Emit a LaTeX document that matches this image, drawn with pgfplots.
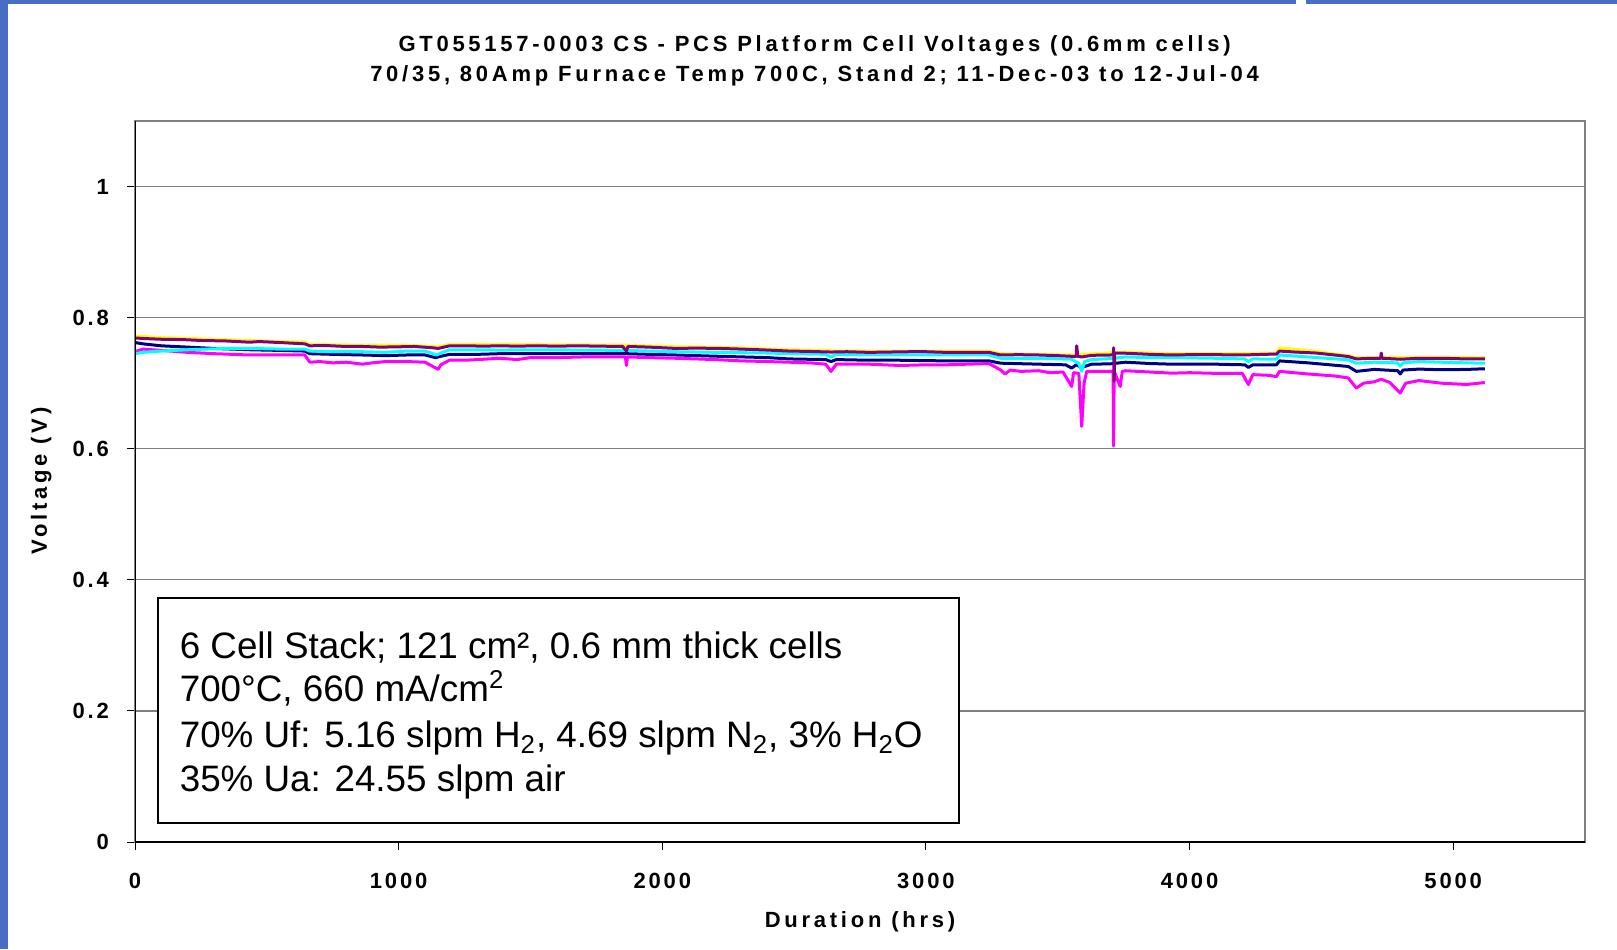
\documentclass[border=0pt]{standalone}
\usepackage{fontspec}
\setmainfont{Liberation Sans}
\newfontfamily\lsfont[LetterSpace=13]{Liberation Sans}
\newfontfamily\ltfont[LetterSpace=17]{Liberation Sans}
\usepackage{pgfplots}
\pgfplotsset{compat=1.18}
\definecolor{xnavy}{RGB}{0,0,128}
\definecolor{xmag}{RGB}{255,0,255}
\definecolor{xyel}{RGB}{255,255,0}
\definecolor{xcyan}{RGB}{0,255,255}
\definecolor{xpurp}{RGB}{128,0,128}
\definecolor{slideblue}{RGB}{72,110,196}
\newcommand{\lbl}{\fontsize{11}{13}\selectfont\lsfont\bfseries}
\newcommand{\ttl}{\fontsize{11}{13}\selectfont\ltfont\bfseries}
\begin{document}
\begin{tikzpicture}
\path[use as bounding box] (0,0) rectangle (808.5pt,474.5pt);
\fill[white] (0,0) rectangle (808.5pt,474.5pt);
\begin{axis}[
  at={(67.5pt,53.5pt)}, anchor=south west,
  scale only axis, width=725pt, height=360.5pt,
  xmin=0, xmax=5500, ymin=0, ymax=1.1,
  xtick={0,1000,2000,3000,4000,5000},
  xticklabels={0,1000,2000,3000,4000,5000},
  ytick={0,0.2,0.4,0.6,0.8,1},
  yticklabels={0,0.2,0.4,0.6,0.8,1},
  xtick pos=left, ytick pos=left,
  tick align=outside, major tick length=4pt,
  tick style={black, line width=0.5pt},
  ymajorgrids, grid style={gray, line width=0.6pt},
  axis line style={gray, line width=0.8pt},
  ticklabel style={font=\lbl},
  xticklabel style={anchor=center, yshift=-15.5pt},
  yticklabel style={anchor=east, xshift=-5.5pt},
  every axis plot/.append style={line width=1.5pt, no markers, line join=round},
]
% Cell 1 (navy)
\addplot[xnavy] coordinates {
(0,0.762) (30,0.760) (100,0.757) (200,0.755) (300,0.753) (436,0.751) (550,0.750) (644,0.749) (663,0.745) (750,0.744)
(864,0.743) (950,0.742) (1030,0.743) (1100,0.743) (1140,0.739) (1160,0.741) (1193,0.744) (1300,0.744) (1383,0.745) (1500,0.745)
(1700,0.745) (1864,0.745) (1950,0.744) (2053,0.743) (2216,0.741) (2400,0.739) (2481,0.737) (2620,0.736) (2640,0.733) (2660,0.736)
(2784,0.735) (2900,0.735) (3076,0.734) (3239,0.734) (3284,0.7305) (3428,0.729) (3530,0.728) (3553,0.723) (3570,0.728) (3591,0.724)
(3629,0.729) (3700,0.7295) (3757,0.732) (3850,0.730) (3932,0.729) (4098,0.729) (4210,0.728) (4223,0.724) (4240,0.728) (4330,0.728)
(4341,0.734) (4450,0.731) (4602,0.7255) (4633,0.718) (4700,0.721) (4790,0.719) (4799,0.714) (4810,0.720) (4870,0.7215) (4955,0.7205)
(5050,0.721) (5120,0.722)
};
% Cell 2 (magenta)
\addplot[xmag] coordinates {
(0,0.748) (30,0.752) (100,0.750) (200,0.747) (300,0.745) (436,0.743) (550,0.743) (644,0.743) (663,0.732) (700,0.733)
(750,0.731) (800,0.732) (864,0.729) (900,0.731) (950,0.733) (1030,0.733) (1100,0.732) (1130,0.7255) (1150,0.721) (1160,0.728)
(1193,0.735) (1250,0.735) (1300,0.736) (1383,0.738) (1450,0.736) (1500,0.739) (1600,0.739) (1700,0.740) (1860,0.740) (1864,0.727)
(1868,0.740) (1950,0.739) (2053,0.738) (2130,0.737) (2216,0.7357) (2300,0.734) (2400,0.733) (2481,0.732) (2560,0.731) (2620,0.729)
(2640,0.718) (2660,0.729) (2700,0.729) (2784,0.729) (2900,0.727) (3000,0.728) (3076,0.728) (3160,0.729) (3239,0.730) (3284,0.720)
(3300,0.714) (3320,0.720) (3360,0.718) (3428,0.719) (3470,0.716) (3520,0.717) (3553,0.695) (3560,0.716) (3580,0.715) (3591,0.634)
(3600,0.700) (3610,0.718) (3629,0.718) (3700,0.718) (3710,0.718) (3712,0.604) (3714,0.718) (3737,0.695) (3745,0.718) (3757,0.719)
(3850,0.717) (3932,0.7153) (4000,0.716) (4098,0.715) (4200,0.715) (4223,0.698) (4240,0.713) (4300,0.712) (4330,0.710) (4341,0.718)
(4450,0.714) (4550,0.711) (4602,0.708) (4633,0.6925) (4660,0.700) (4700,0.702) (4727,0.706) (4760,0.701) (4799,0.685) (4820,0.700)
(4870,0.704) (4955,0.700) (5050,0.698) (5120,0.701)
};
% Cell 3 (yellow)
\addplot[xyel] coordinates {
(0,0.772) (100,0.7695) (260,0.7675) (436,0.765) (644,0.7625) (663,0.759) (864,0.758) (1030,0.758) (1150,0.7555) (1193,0.759)
(1383,0.759) (1600,0.7585) (1864,0.758) (2053,0.7555) (2216,0.755) (2481,0.751) (2640,0.7495) (2784,0.749) (3076,0.749) (3239,0.749)
(3284,0.745) (3553,0.743) (3757,0.7475) (3932,0.745) (4098,0.745) (4330,0.746) (4341,0.7535) (4450,0.750) (4602,0.742) (4633,0.739)
(4955,0.7395) (5120,0.739)
};
% Cell 4 (cyan)
\addplot[xcyan] coordinates {
(0,0.745) (30,0.747) (100,0.749) (200,0.751) (300,0.7525) (436,0.753) (550,0.752) (644,0.752) (663,0.749) (750,0.748)
(864,0.748) (950,0.747) (1030,0.749) (1100,0.749) (1130,0.745) (1145,0.743) (1160,0.746) (1193,0.751) (1300,0.751) (1383,0.7505)
(1500,0.751) (1700,0.7505) (1864,0.750) (1950,0.749) (2053,0.748) (2216,0.747) (2400,0.746) (2481,0.745) (2620,0.744) (2640,0.740)
(2660,0.744) (2784,0.743) (2900,0.743) (3076,0.743) (3239,0.743) (3284,0.738) (3428,0.738) (3553,0.7365) (3580,0.730) (3591,0.718)
(3602,0.733) (3629,0.736) (3700,0.7375) (3757,0.740) (3850,0.739) (3932,0.739) (4098,0.738) (4210,0.737) (4223,0.733) (4240,0.737)
(4330,0.7366) (4341,0.743) (4450,0.740) (4602,0.7356) (4633,0.7305) (4700,0.732) (4790,0.731) (4799,0.726) (4810,0.731) (4870,0.733)
(4955,0.732) (5050,0.731) (5120,0.7305)
};
% Cell 5 (purple)
\addplot[xpurp] coordinates {
(0,0.769) (40,0.768) (100,0.767) (180,0.7665) (260,0.765) (340,0.7645) (436,0.7625) (470,0.7635) (550,0.762) (644,0.760)
(663,0.757) (720,0.7575) (800,0.756) (864,0.756) (930,0.755) (1000,0.7555) (1060,0.756) (1130,0.754) (1150,0.753) (1193,0.757)
(1260,0.757) (1320,0.7565) (1383,0.757) (1450,0.7565) (1520,0.757) (1600,0.7565) (1680,0.757) (1760,0.7565) (1850,0.756) (1864,0.749)
(1870,0.756) (1950,0.755) (2053,0.753) (2130,0.7535) (2216,0.753) (2300,0.752) (2400,0.7505) (2481,0.749) (2550,0.7485) (2640,0.7475)
(2700,0.748) (2784,0.747) (2860,0.7475) (2940,0.748) (3000,0.748) (3076,0.747) (3160,0.747) (3239,0.747) (3284,0.743) (3350,0.7435)
(3428,0.743) (3500,0.742) (3553,0.741) (3570,0.741) (3572,0.757) (3576,0.741) (3591,0.740) (3629,0.7425) (3700,0.743) (3711,0.743)
(3712,0.754) (3714,0.703) (3716,0.746) (3757,0.7457) (3850,0.744) (3932,0.743) (4000,0.7435) (4098,0.7435) (4200,0.743) (4330,0.7445)
(4341,0.749) (4400,0.7475) (4480,0.746) (4550,0.743) (4602,0.7407) (4633,0.737) (4690,0.738) (4725,0.738) (4727,0.746) (4730,0.738)
(4800,0.7365) (4870,0.738) (4955,0.738) (5050,0.737) (5120,0.737)
};
\draw[black, line width=0.8pt] (rel axis cs:0,1) -- (rel axis cs:0,0) -- (rel axis cs:1,0);
\end{axis}
% annotation box
\draw[black, line width=1pt, fill=white] (78.9pt,63.2pt) rectangle (479.4pt,175.5pt);
\begin{scope}[every node/.style={anchor=base west, inner sep=0pt, font=\fontsize{18.4}{22}\selectfont}]
\node at (89.7pt,145.3pt) {6 Cell Stack; 121 cm², 0.6 mm thick cells};
\node at (89.7pt,123.8pt) {700°C, 660 mA/cm\textsuperscript{2}};
\node at (89.7pt,100.8pt) {70\% Uf: 5.16 slpm H\textsubscript{2}, 4.69 slpm N\textsubscript{2}, 3\% H\textsubscript{2}O};
\node at (89.7pt,78.8pt) {35\% Ua: 24.55 slpm air};
\end{scope}
% titles and axis labels
\node[font=\ttl] at (407.3pt,451.8pt) {GT055157-0003 CS - PCS Platform Cell Voltages (0.6mm cells)};
\node[font=\ttl] at (407.3pt,436.5pt) {70/35, 80Amp Furnace Temp 700C, Stand 2; 11-Dec-03 to 12-Jul-04};
\node[font=\ttl] at (430pt,13.5pt) {Duration (hrs)};
\node[font=\ttl, rotate=90] at (20.6pt,234pt) {Voltage (V)};
% slide frame
\fill[slideblue] (0,0) rectangle (4pt,474.5pt);
\fill[slideblue] (0,472.5pt) rectangle (648pt,474.5pt);
\fill[slideblue] (653pt,472.5pt) rectangle (808.5pt,474.5pt);
\end{tikzpicture}
\end{document}
